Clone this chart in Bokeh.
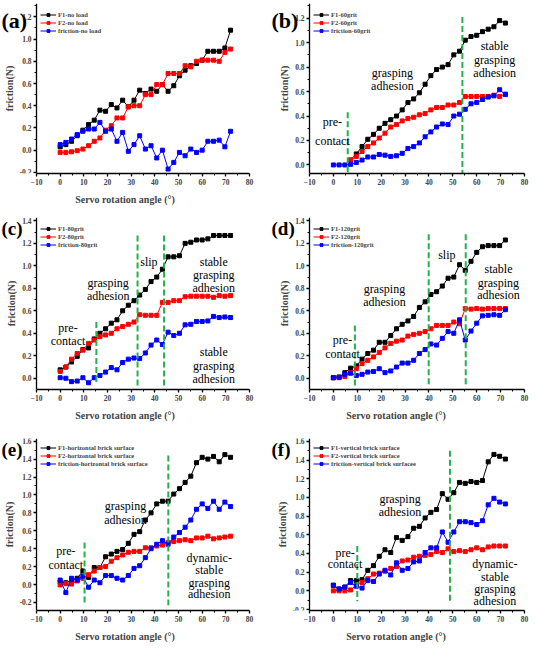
from bokeh.plotting import figure
from bokeh.layouts import gridplot
from bokeh.models import Label, Range1d, FixedTicker, NumeralTickFormatter
from bokeh.embed import file_html
from bokeh.resources import INLINE

# ---------------- data ----------------
ANGLE = [0, 2.4, 4.8, 7.2, 9.6, 12, 14.4, 16.8, 19.2, 21.6, 24, 26.4, 28.8, 31.2, 33.6,
         36, 38.4, 40.8, 43.2, 45.6, 48, 50.4, 52.8, 55.2, 57.6, 60, 62.4, 64.8, 67.2, 69.6, 72]
ANGLE_B_F = [7.2, 9.6, 12, 14.4, 16.8, 19.2, 21.6, 24, 26.4, 28.8, 31.2, 33.6,
             36, 38.4, 40.8, 43.2, 45.6, 48, 50.4, 52.8, 55.2, 57.6, 60, 62.4, 64.8, 67.2, 69.6, 72]

A_F1 = [0.03, 0.05, 0.08, 0.13, 0.18, 0.23, 0.27, 0.36, 0.35, 0.41, 0.38, 0.45, 0.39, 0.45, 0.54, 0.51,
        0.55, 0.53, 0.59, 0.53, 0.58, 0.67, 0.72, 0.76, 0.78, 0.81, 0.89, 0.89, 0.89, 0.92, 1.08]
A_F2 = [-0.02, -0.02, -0.015, -0.005, 0.01, 0.04, 0.08, 0.11, 0.18, 0.22, 0.29, 0.29, 0.39, 0.40, 0.40, 0.50,
        0.50, 0.59, 0.59, 0.69, 0.69, 0.69, 0.76, 0.75, 0.80, 0.81, 0.81, 0.81, 0.80, 0.88, 0.91]
A_FR = [0.05, 0.07, 0.10, 0.14, 0.17, 0.19, 0.19, 0.25, 0.17, 0.19, 0.08, 0.16, -0.01, 0.05, 0.13, 0.01,
        0.04, -0.07, 0.00, -0.17, -0.11, -0.02, -0.05, 0.01, -0.02, 0.00, 0.08, 0.08, 0.09, 0.03, 0.17]

B_F1 = [0.04, 0.09, 0.15, 0.21, 0.25, 0.30, 0.34, 0.37, 0.40, 0.45, 0.51, 0.54, 0.59, 0.66,
        0.73, 0.78, 0.80, 0.82, 0.90, 0.93, 1.02, 1.05, 1.06, 1.09, 1.11, 1.13, 1.18, 1.16]
B_F2 = [0.04, 0.07, 0.11, 0.15, 0.18, 0.22, 0.26, 0.31, 0.33, 0.36, 0.38, 0.39, 0.41, 0.42,
        0.45, 0.47, 0.47, 0.49, 0.49, 0.51, 0.56, 0.56, 0.56, 0.56, 0.56, 0.57, 0.56, 0.58]
B_FR = [0.0, 0.0, 0.0, 0.005, 0.02, 0.04, 0.065, 0.065, 0.085, 0.08, 0.07, 0.075, 0.095, 0.135, 0.15, 0.18,
        0.23, 0.27, 0.31, 0.335, 0.33, 0.40, 0.415, 0.455, 0.50, 0.51, 0.535, 0.555, 0.565, 0.615, 0.575]

C_F1 = [0.075, 0.10, 0.145, 0.195, 0.255, 0.27, 0.35, 0.40, 0.44, 0.49, 0.52, 0.60, 0.65, 0.69, 0.74, 0.79,
        0.86, 0.90, 0.97, 1.08, 1.08, 1.09, 1.20, 1.21, 1.23, 1.23, 1.24, 1.27, 1.27, 1.27, 1.27]
C_F2 = [0.06, 0.10, 0.17, 0.22, 0.25, 0.31, 0.34, 0.37, 0.385, 0.40, 0.44, 0.46, 0.48, 0.50, 0.565, 0.56,
        0.56, 0.56, 0.675, 0.675, 0.69, 0.69, 0.725, 0.73, 0.73, 0.73, 0.73, 0.72, 0.735, 0.73, 0.735]
C_FR = [0.005, 0.00, -0.03, -0.025, 0.005, -0.04, 0.005, 0.025, 0.055, 0.095, 0.075, 0.14, 0.17, 0.18, 0.175, 0.225,
        0.295, 0.34, 0.30, 0.41, 0.38, 0.40, 0.475, 0.48, 0.505, 0.505, 0.51, 0.55, 0.54, 0.545, 0.54]

D_F1 = [0.005, 0.01, 0.05, 0.09, 0.11, 0.17, 0.22, 0.25, 0.32, 0.32, 0.38, 0.44, 0.48, 0.51, 0.55, 0.63,
        0.68, 0.745, 0.77, 0.82, 0.89, 0.90, 1.01, 0.96, 1.04, 1.12, 1.17, 1.18, 1.18, 1.18, 1.23]
D_F2 = [0.005, 0.005, 0.015, 0.05, 0.085, 0.13, 0.16, 0.19, 0.23, 0.27, 0.31, 0.33, 0.34, 0.375, 0.39, 0.40,
        0.415, 0.44, 0.47, 0.47, 0.47, 0.50, 0.485, 0.62, 0.615, 0.62, 0.615, 0.62, 0.62, 0.62, 0.62]
D_FR = [0.005, 0.01, 0.035, 0.045, 0.025, 0.035, 0.055, 0.06, 0.085, 0.05, 0.065, 0.10, 0.135, 0.135, 0.16, 0.22,
        0.255, 0.305, 0.295, 0.355, 0.415, 0.40, 0.52, 0.34, 0.42, 0.49, 0.555, 0.56, 0.565, 0.56, 0.61]

E_F1 = [0.03, 0.02, 0.05, 0.07, 0.15, 0.08, 0.19, 0.19, 0.31, 0.34, 0.37, 0.39, 0.46, 0.56, 0.59, 0.72,
        0.80, 0.90, 0.93, 0.93, 1.01, 1.07, 1.14, 1.21, 1.36, 1.42, 1.40, 1.43, 1.37, 1.45, 1.42]
E_F2 = [-0.005, 0.01, 0.005, 0.04, 0.07, 0.11, 0.15, 0.19, 0.20, 0.26, 0.30, 0.33, 0.36, 0.37, 0.37, 0.41,
        0.41, 0.43, 0.44, 0.47, 0.48, 0.49, 0.50, 0.49, 0.52, 0.52, 0.54, 0.51, 0.52, 0.53, 0.54]
E_FR = [0.05, -0.09, 0.07, 0.05, 0.09, -0.03, 0.05, 0.02, 0.10, 0.10, 0.07, 0.05, 0.10, 0.18, 0.21, 0.30,
        0.40, 0.45, 0.49, 0.45, 0.53, 0.58, 0.64, 0.72, 0.84, 0.90, 0.85, 0.93, 0.84, 0.92, 0.87]

F_F1 = [0.06, 0.02, 0.04, 0.11, 0.11, 0.12, 0.22, 0.27, 0.37, 0.44, 0.41, 0.57, 0.54, 0.58, 0.67, 0.69,
        0.78, 0.84, 0.87, 1.04, 0.98, 1.05, 1.16, 1.15, 1.17, 1.16, 1.18, 1.38, 1.46, 1.44, 1.41]
F_F2 = [0.00, 0.00, 0.00, 0.01, 0.06, 0.09, 0.13, 0.18, 0.19, 0.21, 0.24, 0.26, 0.32, 0.33, 0.36, 0.37,
        0.38, 0.39, 0.42, 0.41, 0.45, 0.42, 0.43, 0.42, 0.44, 0.46, 0.44, 0.47, 0.48, 0.48, 0.48]
F_FR = [0.06, 0.02, 0.04, 0.09, 0.05, 0.03, 0.11, 0.10, 0.18, 0.22, 0.17, 0.30, 0.22, 0.24, 0.31, 0.32,
        0.41, 0.46, 0.46, 0.63, 0.52, 0.63, 0.74, 0.74, 0.73, 0.71, 0.75, 0.92, 0.99, 0.95, 0.93]

LEG_A = ["F1-no load", "F2-no load", "friction-no load"]
LEG_B = ["F1-60grit", "F2-60grit", "friction-60grit"]
LEG_C = ["F1-80grit", "F2-80grit", "friction-80grit"]
LEG_D = ["F1-120grit", "F2-120grit", "friction-120grit"]
LEG_E = ["F1-horizontal brick surface", "F2-horizontal brick surface", "friction-horizontal brick surface"]
LEG_F = ["F1-vertical brick surface", "F2-vertical brick surface", "friction-vertical brick surfacee"]

# phase boundary angles (x, y_top, y_bottom)
PHASE_B = [(6.0, 0.43, -0.07), (54.0, 1.21, -0.07)]
PHASE_C = [(15.3, 0.50, -0.055), (32.7, 1.27, -0.08), (43.9, 1.27, -0.08)]
PHASE_D = [(9.0, 0.47, -0.07), (39.9, 1.28, -0.07), (55.4, 1.28, -0.07)]
PHASE_E = [(10.3, 0.47, -0.23), (45.7, 1.44, -0.23)]
PHASE_F = [(10.0, 0.48, -0.11), (48.8, 1.50, -0.11)]

X_TICKS = [-10, 0, 10, 20, 30, 40, 50, 60, 70, 80]
X_MIN, X_MAX = -10, 80

SERIF = "Liberation Serif"
COLORS = ["#000000", "#ff0000", "#0000ff"]
GREEN = "#22b14c"


def make_panel(tag, xs_list, ys_list, legends, y_rng, y_ticks, phases, notes,
               col, row, xlabel=True):
    w = 267
    # pixel position of the y axis inside the figure, and the right border
    axis_px, br = (36, 18) if col == 0 else (42, 10)
    h, bt, bb, tag_dy, tag_size = [(215, 3, 42, 4, "22px"), (215, 2, 41, 0, "19px"),
                                   (214, 8, 32, 1, "19px")][row]
    fw = w - br
    fh = h - bt - bb
    pxu = (fw - axis_px) / (X_MAX - X_MIN)
    x_start = X_MIN - axis_px / pxu
    ystart, yend = y_rng
    pyu = fh / (yend - ystart)

    p = figure(width=w, height=h, x_range=Range1d(x_start, X_MAX), y_range=Range1d(ystart, yend),
               output_backend="svg", toolbar_location=None,
               min_border_left=0, min_border_right=br, min_border_top=bt, min_border_bottom=bb)
    p.outline_line_color = None
    p.grid.visible = False
    p.background_fill_color = "white"

    p.yaxis.fixed_location = X_MIN
    p.xaxis.bounds = (X_MIN, X_MAX)

    p.xaxis.ticker = FixedTicker(ticks=X_TICKS, minor_ticks=[t + 5 for t in X_TICKS[:-1]])
    p.yaxis.ticker = FixedTicker(ticks=y_ticks,
                                 minor_ticks=[round(t + 0.1, 2) for t in y_ticks])
    p.yaxis.formatter = NumeralTickFormatter(format="0.0")
    for ax in (p.xaxis, p.yaxis):
        ax.axis_line_width = 1.3
        ax.major_tick_in = 0
        ax.major_tick_out = 3
        ax.minor_tick_in = 0
        ax.minor_tick_out = 2
        ax.major_tick_line_width = 1.3
        ax.major_label_text_font = SERIF
        ax.major_label_text_font_style = "bold"
        ax.major_label_text_font_size = "7.5px"
        ax.major_label_standoff = 2
        ax.axis_label_text_font = SERIF
        ax.axis_label_text_font_style = "bold"
        ax.axis_label_text_font_size = "10px"
    p.xaxis.axis_label_standoff = 6
    p.yaxis.axis_label_standoff = 2
    p.yaxis.axis_label = "friction(N)"
    if xlabel:
        p.xaxis.axis_label = "Servo rotation angle (°)"

    for xs, ys, lab, c in zip(xs_list, ys_list, legends, COLORS):
        p.line(xs, ys, color=c, line_width=1, legend_label=lab)
        p.scatter(xs, ys, marker="square", size=4, fill_color=c, line_color=c, legend_label=lab)

    for (px, ytop, ybot) in phases:
        p.segment(x0=[px], y0=[ytop], x1=[px], y1=[ybot], line_color=GREEN,
                  line_width=2, line_dash="6 3")

    for (txt, tx, ty) in notes:
        p.add_layout(Label(x=tx, y=ty, text=txt, text_font=SERIF, text_font_size="12px",
                           text_align="center", text_baseline="middle", text_color="black"))

    # panel tag, left of the y axis near its top
    p.add_layout(Label(x=x_start + (1 if col == 0 else 4) / pxu, y=yend - tag_dy / pyu, text=tag,
                       text_font=SERIF, text_font_style="bold", text_font_size=tag_size,
                       text_align="left", text_baseline="top", text_color="black"))

    lg = p.legend[0]
    lg.location = (axis_px + 4, fh - 31)
    lg.border_line_color = None
    lg.background_fill_alpha = 0
    lg.label_text_font = SERIF
    lg.label_text_font_style = "bold"
    lg.label_text_font_size = "6.5px"
    lg.glyph_width = 16
    lg.glyph_height = 7
    lg.label_height = 7
    lg.label_standoff = 2
    lg.spacing = 1
    lg.padding = 2
    lg.margin = 0
    return p


YT_A = [-0.2, 0.0, 0.2, 0.4, 0.6, 0.8, 1.0, 1.2]
YT_B = [0.0, 0.2, 0.4, 0.6, 0.8, 1.0, 1.2]
YT_C = [0.0, 0.2, 0.4, 0.6, 0.8, 1.0, 1.2, 1.4]
YT_E = [-0.2, 0.0, 0.2, 0.4, 0.6, 0.8, 1.0, 1.2, 1.4, 1.6]

pa = make_panel("(a)", [ANGLE, ANGLE, ANGLE], [A_F1, A_F2, A_FR], LEG_A, (-0.21, 1.32), YT_A,
                [], [], 0, 0)
pb = make_panel("(b)", [ANGLE_B_F, ANGLE_B_F, ANGLE], [B_F1, B_F2, B_FR], LEG_B, (-0.07, 1.32), YT_B,
                PHASE_B,
                [("pre-", -0.4, 0.35), ("contact", -0.4, 0.195),
                 ("grasping", 24.7, 0.75), ("adhesion", 24.7, 0.645),
                 ("stable", 67.5, 0.97), ("grasping", 67.5, 0.86), ("adhesion", 67.5, 0.75)],
                1, 0, xlabel=False)
pc = make_panel("(c)", [ANGLE, ANGLE, ANGLE], [C_F1, C_F2, C_FR], LEG_C, (-0.1, 1.43), YT_C,
                PHASE_C,
                [("pre-", 3.3, 0.445), ("contact", 3.3, 0.33),
                 ("grasping", 20.3, 0.845), ("adhesion", 20.3, 0.735),
                 ("slip", 37.5, 1.03),
                 ("stable", 64.9, 1.03), ("grasping", 64.9, 0.92), ("adhesion", 64.9, 0.80),
                 ("stable", 64.9, 0.23), ("grasping", 64.9, 0.11), ("adhesion", 64.9, -0.005)],
                0, 1)
pd = make_panel("(d)", [ANGLE, ANGLE, ANGLE], [D_F1, D_F2, D_FR], LEG_D, (-0.1, 1.43), YT_C,
                PHASE_D,
                [("pre-", 3.8, 0.34), ("contact", 3.8, 0.22),
                 ("grasping", 21.4, 0.79), ("adhesion", 21.4, 0.68),
                 ("slip", 47.5, 1.10),
                 ("stable", 69.1, 0.97), ("grasping", 69.1, 0.85), ("adhesion", 69.1, 0.74)],
                1, 1)
pe = make_panel("(e)", [ANGLE, ANGLE, ANGLE], [E_F1, E_F2, E_FR], LEG_E, (-0.29, 1.63), YT_E,
                PHASE_E,
                [("pre-", 2.4, 0.37), ("contact", 2.4, 0.22),
                 ("grasping", 27.6, 0.88), ("adhesion", 27.6, 0.72),
                 ("dynamic-", 63.0, 0.30), ("stable", 63.0, 0.165),
                 ("grasping", 63.0, 0.02), ("adhesion", 63.0, -0.11)],
                0, 2)
pf = make_panel("(f)", [ANGLE, ANGLE, ANGLE], [F_F1, F_F2, F_FR], LEG_F, (-0.21, 1.63), YT_E,
                PHASE_F,
                [("pre-", 4.9, 0.40), ("contact", 4.9, 0.29),
                 ("grasping", 27.9, 0.98), ("adhesion", 27.9, 0.84),
                 ("dynamic-", 67.6, 0.29), ("stable", 67.6, 0.15),
                 ("grasping", 67.6, 0.02), ("adhesion", 67.6, -0.11)],
                1, 2)

grid = gridplot([[pa, pb], [pc, pd], [pe, pf]], toolbar_location=None)
open("out.html", "w").write(file_html(grid, INLINE))
